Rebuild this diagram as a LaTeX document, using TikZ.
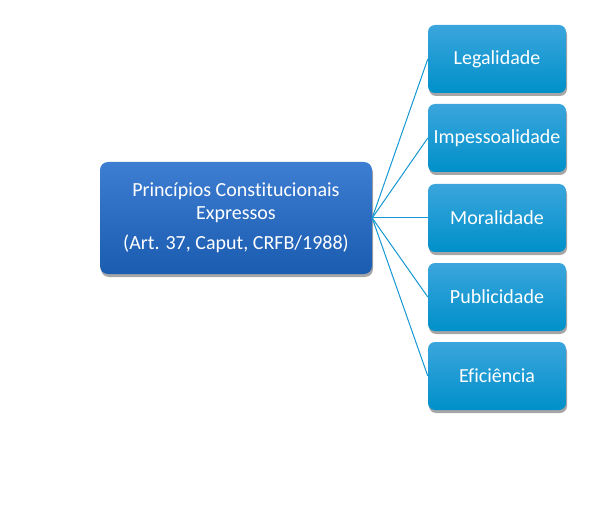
\documentclass[tikz,border=0pt]{standalone}
\usepackage{fontspec}
\setmainfont[Ligatures=CommonOff]{Carlito}
\usetikzlibrary{shadows}

\definecolor{mainTop}{HTML}{3D7DD2}
\definecolor{mainBot}{HTML}{1A5CB0}
\definecolor{leafTop}{HTML}{3BA5DD}
\definecolor{leafBot}{HTML}{0090C9}
\definecolor{linkCol}{HTML}{1597D2}

\tikzset{
  principio/.style={rounded corners=8pt, minimum width=272pt, minimum height=112pt,
    top color=mainTop, bottom color=mainBot, text=white, align=center,
    font=\fontsize{20}{23}\selectfont,
    drop shadow={shadow xshift=1pt, shadow yshift=-3pt, opacity=0.35, fill=black}},
  ramo/.style={rounded corners=7pt, minimum width=138pt, minimum height=68pt,
    top color=leafTop, bottom color=leafBot, text=white,
    font=\fontsize{20}{23}\selectfont,
    drop shadow={shadow xshift=1pt, shadow yshift=-3pt, opacity=0.35, fill=black}},
  ligacao/.style={draw=linkCol, line width=1pt}
}

\begin{document}
\begin{tikzpicture}[x=1pt, y=1pt]
        \useasboundingbox (0,0) rectangle (600,515);

        \node[principio] (centro) at (236,297) {Princípios Constitucionais\\Expressos\\[7pt](Art. 37, Caput, CRFB/1988)};

        \node[ramo] (legal) at (497,456) {Legalidade};
        \node[ramo] (impess) at (497,377) {Impessoalidade};
        \node[ramo] (moral) at (497,297) {Moralidade};
        \node[ramo] (publ) at (497,218) {Publicidade};
        \node[ramo] (efic) at (497,139) {Eficiência};

        \foreach \r in {legal, impess, moral, publ, efic}
          \draw[ligacao] (centro.east) -- (\r.west);

      \end{tikzpicture}
\end{document}
